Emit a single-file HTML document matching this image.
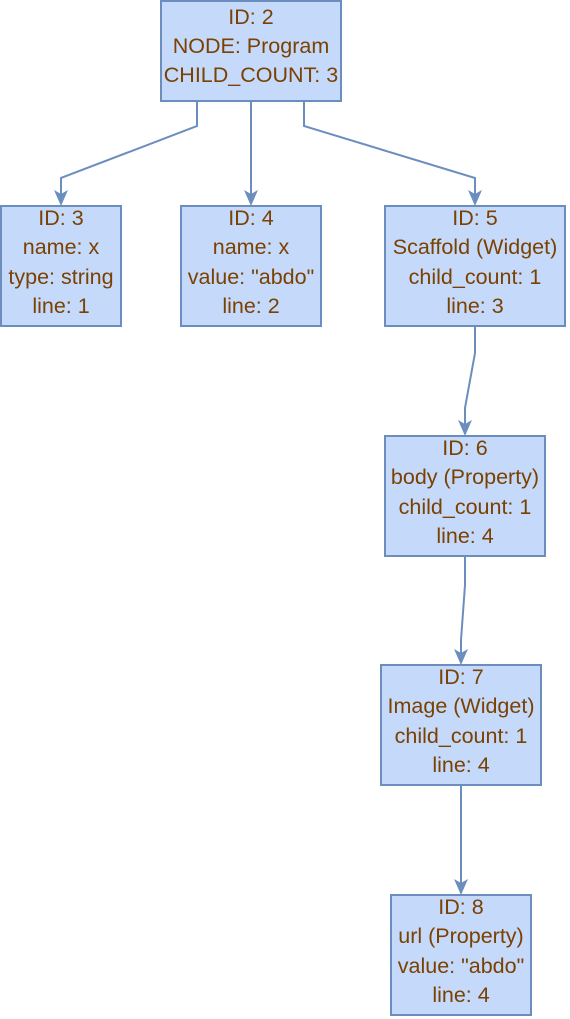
<!DOCTYPE html>
<html><head><meta charset="utf-8"><style>
html,body{margin:0;padding:0;background:#fff;}
svg{display:block;}
text{font-family:"Liberation Sans",sans-serif;font-size:21.5px;fill:#7a4100;text-anchor:middle;}
</style></head><body>
<svg width="570" height="1019" viewBox="0 0 570 1019">
<g fill="none" stroke="#6c8ebf" stroke-width="2">
<path d="M197,101 V126 L61,178 V196"/>
<path d="M251,101 V196"/>
<path d="M304,101 V126 L475,178 V196"/>
<path d="M475,326 V353 L465,408 V426"/>
<path d="M465,556 V585 L461,640 V655"/>
<path d="M461,785 V885"/>
</g>
<g fill="#6c8ebf">
<path d="M54,190 L61,194 L68,190 L61,206 Z"/>
<path d="M244,190 L251,194 L258,190 L251,206 Z"/>
<path d="M468,190 L475,194 L482,190 L475,206 Z"/>
<path d="M458,420 L465,424 L472,420 L465,436 Z"/>
<path d="M454,649 L461,653 L468,649 L461,665 Z"/>
<path d="M454,879 L461,883 L468,879 L461,895 Z"/>
</g>
<g fill="#c5d9fb" stroke="#6c8ebf" stroke-width="2">
<rect x="161" y="1" width="180" height="100"/>
<rect x="1" y="206" width="120" height="120"/>
<rect x="181" y="206" width="140" height="120"/>
<rect x="385" y="206" width="180" height="120"/>
<rect x="385" y="436" width="160" height="120"/>
<rect x="381" y="665" width="160" height="120"/>
<rect x="391" y="895" width="140" height="120"/>
</g>
<text x="251" y="24">ID: 2</text><text x="251" y="53">NODE: Program</text><text x="251" y="82">CHILD_COUNT: 3</text>
<text x="61" y="225">ID: 3</text><text x="61" y="254">name: x</text><text x="61" y="284">type: string</text><text x="61" y="313">line: 1</text>
<text x="251" y="225">ID: 4</text><text x="251" y="254">name: x</text><text x="251" y="284">value: "abdo"</text><text x="251" y="313">line: 2</text>
<text x="475" y="225">ID: 5</text><text x="475" y="254">Scaffold (Widget)</text><text x="475" y="284">child_count: 1</text><text x="475" y="313">line: 3</text>
<text x="465" y="455">ID: 6</text><text x="465" y="484">body (Property)</text><text x="465" y="514">child_count: 1</text><text x="465" y="543">line: 4</text>
<text x="461" y="684">ID: 7</text><text x="461" y="713">Image (Widget)</text><text x="461" y="743">child_count: 1</text><text x="461" y="772">line: 4</text>
<text x="461" y="914">ID: 8</text><text x="461" y="943">url (Property)</text><text x="461" y="973">value: "abdo"</text><text x="461" y="1002">line: 4</text>
</svg>
</body></html>
